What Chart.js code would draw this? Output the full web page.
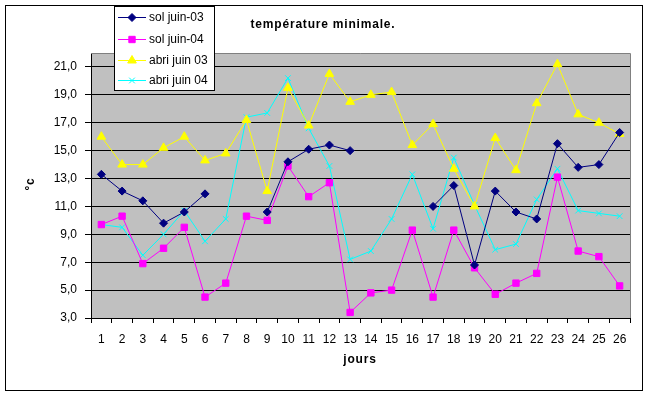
<!DOCTYPE html>
<html>
<head>
<meta charset="utf-8">
<script src="https://cdn.jsdelivr.net/npm/chart.js@4.4.1/dist/chart.umd.min.js"></script>
<style>
  html, body { margin: 0; padding: 0; background: #fff; }
  #wrap { width: 649px; height: 396px; }
</style>
</head>
<body>
<div id="wrap"><canvas id="myChart" width="649" height="396"></canvas></div>
<script>
// data
const jours = ['1','2','3','4','5','6','7','8','9','10','11','12','13','14','15','16','17','18','19','20','21','22','23','24','25','26'];
const solJuin03 = [13.3, 12.1, 11.4, 9.8, 10.6, 11.9, null, null, 10.6, 14.2, 15.1, 15.4, 15.0, null, null, null, 11.0, 12.5, 6.8, 12.1, 10.6, 10.1, 15.5, 13.8, 14.0, 16.3];
const solJuin04 = [9.7, 10.3, 6.9, 8.0, 9.5, 4.5, 5.5, 10.3, 10.0, 13.9, 11.7, 12.7, 3.4, 4.8, 5.0, 9.3, 4.5, 9.3, 6.6, 4.7, 5.5, 6.2, 13.1, 7.8, 7.4, 5.3];
const abriJuin03 = [16.0, 14.0, 14.0, 15.2, 16.0, 14.3, 14.8, 17.2, 12.1, 19.5, 16.8, 20.5, 18.5, 19.0, 19.2, 15.4, 16.9, 13.7, 11.0, 15.9, 13.6, 18.4, 21.2, 17.6, 17.0, 16.2];
const abriJuin04 = [9.7, 9.5, 7.5, 9.0, 10.7, 8.5, 10.1, 17.4, 17.7, 20.2, 16.6, 13.9, 7.2, 7.8, 10.1, 13.3, 9.4, 14.5, 11.1, 7.9, 8.3, 11.5, 13.7, 10.7, 10.5, 10.3];
const yTicks = [3, 5, 7, 9, 11, 13, 15, 17, 19, 21];

const ctx = document.getElementById('myChart');
const FONT = "'Liberation Sans', Arial, sans-serif";
Chart.defaults.font.family = FONT;
Chart.defaults.font.size = 12;
Chart.defaults.color = '#000';

function serie(label, data, color, style, radius) {
  return {
    label: label,
    data: data,
    borderColor: color,
    backgroundColor: color,
    pointBorderColor: color,
    pointBackgroundColor: color,
    borderWidth: 1,
    pointStyle: style,
    pointRadius: radius,
    pointHoverRadius: radius,
    pointBorderWidth: 1,
    tension: 0,
    spanGaps: false
  };
}

// background, frame, title, axis names and the legend box
const decor = {
  id: 'decor',
  beforeDraw(chart) {
    const c = chart.ctx, a = chart.chartArea;
    c.save();
    c.fillStyle = '#fff';
    c.fillRect(0, 0, chart.width, chart.height);
    c.fillStyle = '#c0c0c0';
    c.fillRect(a.left, a.top, a.right - a.left, a.bottom - a.top);
    c.restore();
  },
  afterDraw(chart) {
    const c = chart.ctx, a = chart.chartArea;
    c.save();
    // plot border top / right
    c.strokeStyle = '#808080';
    c.lineWidth = 1;
    c.beginPath();
    c.moveTo(a.left, a.top + 0.5);
    c.lineTo(a.right + 0.5, a.top + 0.5);
    c.lineTo(a.right + 0.5, a.bottom);
    c.stroke();
    // outer frame
    c.strokeStyle = '#000';
    c.strokeRect(5.5, 5.5, 637, 385);
    // title
    c.fillStyle = '#000';
    c.font = 'bold 12px ' + FONT;
    c.textAlign = 'center';
    c.textBaseline = 'middle';
    if ('letterSpacing' in c) c.letterSpacing = '0.8px';
    c.fillText('température minimale.', 323, 25);
    c.fillText('jours', 360, 360);
    c.translate(31, 184);
    c.rotate(-Math.PI / 2);
    c.fillText('°c', 0, 0);
    c.restore();

    // legend box
    c.save();
    c.fillStyle = '#fff';
    c.fillRect(114, 6, 100, 84);
    c.strokeStyle = '#000';
    c.strokeRect(114.5, 6.5, 100, 84);
    const rows = [17, 39, 60, 80];
    chart.data.datasets.forEach((ds, i) => {
      const y = rows[i] + 0.5;
      c.strokeStyle = ds.borderColor;
      c.lineWidth = 1;
      c.beginPath();
      c.moveTo(118, y);
      c.lineTo(146, y);
      c.stroke();
      if (Chart.helpers && Chart.helpers.drawPoint) {
        c.fillStyle = ds.pointBackgroundColor;
        c.strokeStyle = ds.pointBorderColor;
        Chart.helpers.drawPoint(c, { pointStyle: ds.pointStyle, radius: ds.pointRadius, rotation: 0, borderWidth: 1 }, 132, y);
      }
      c.fillStyle = '#000';
      c.font = '12px ' + FONT;
      c.textAlign = 'left';
      c.textBaseline = 'middle';
      c.fillText(ds.label, 149, y);
    });
    c.restore();
  }
};

new Chart(ctx, {
  type: 'line',
  data: {
    labels: jours,
    datasets: [
      serie('sol juin-03', solJuin03, '#000080', 'rectRot', 4),
      serie('sol juin-04', solJuin04, '#ff00ff', 'rect', 4.5),
      serie('abri juin 03', abriJuin03, '#ffff00', 'triangle', 5),
      serie('abri juin 04', abriJuin04, '#00ffff', 'crossRot', 4)
    ]
  },
  options: {
    responsive: false,
    animation: false,
    layout: { padding: { left: 0, right: 19, top: 53, bottom: 0 } },
    plugins: {
      legend: { display: false },
      title: { display: false },
      tooltip: { enabled: false }
    },
    scales: {
      x: {
        offset: true,
        afterFit(scale) { scale.height = 78; },
        grid: { offset: true, drawOnChartArea: false, drawTicks: true, tickLength: 5, color: '#000' },
        border: { color: '#000' },
        ticks: { padding: 9, maxRotation: 0, autoSkip: false }
      },
      y: {
        min: 3,
        max: 22,
        afterFit(scale) { scale.width = 91; },
        afterBuildTicks(scale) { scale.ticks = yTicks.map(v => ({ value: v })); },
        grid: { color: '#000', tickLength: 6 },
        border: { color: '#000' },
        ticks: {
          padding: 8,
          callback: v => v.toFixed(1).replace('.', ',')
        }
      }
    }
  },
  plugins: [decor]
});
</script>
</body>
</html>
